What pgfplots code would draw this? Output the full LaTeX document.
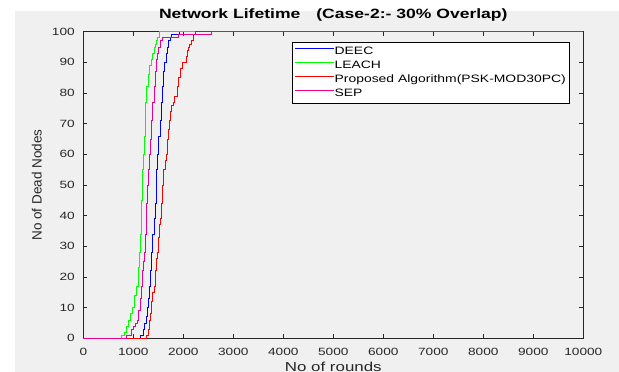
\documentclass[border=0pt]{standalone}
\usepackage{fontspec}
\setmainfont{Liberation Sans}[FakeStretch=1.3]
\newfontfamily\ylabfont{Liberation Sans}
\usepackage{pgfplots}
\pgfplotsset{compat=1.18}
\definecolor{mgray}{RGB}{240,240,240}
\definecolor{axgray}{RGB}{38,38,38}
\begin{document}
\begin{tikzpicture}[x=1pt,y=1pt]
\fill[white] (0,0) rectangle (619,372);
\fill[mgray] (15,0) rectangle (619,361);
\useasboundingbox (0,0) rectangle (619,372);
\begin{axis}[
  at={(83.3pt,33.7pt)}, anchor=south west,
  scale only axis, width=500pt, height=306.6pt,
  xmin=0, xmax=10000, ymin=0, ymax=100,
  xtick={0,1000,...,10000}, ytick={0,10,...,100},
  scaled x ticks=false,
  /pgf/number format/1000 sep=,
  /pgf/number format/assume math mode=true,
  tick align=inside, tick pos=both,
  xticklabel pos=lower, yticklabel pos=left,
  major tick length=4pt,
  axis line style={axgray, line width=0.5pt},
  tick style={axgray, line width=0.5pt},
  ticklabel style={font=\fontsize{10.5}{12}\selectfont, text=axgray},
  xticklabel style={yshift=-6pt},
  yticklabel style={xshift=-5pt},
  clip=false,
  title={Network Lifetime\hspace{16pt}(Case-2:- 30\% Overlap)},
  title style={at={(axis description cs:0.5,1)}, anchor=base, yshift=7.4pt, font=\bfseries\fontsize{13.5}{15}\selectfont},
  xlabel={No of rounds},
  xlabel style={at={(axis description cs:0.5,0)}, anchor=base, yshift=-33.5pt, font=\fontsize{13}{15}\selectfont, text=axgray},
  ylabel={No of Dead Nodes},
  ylabel style={at={(axis description cs:-0.0932,0.5)}, anchor=center, font=\ylabfont\fontsize{13.5}{15}\selectfont, text=axgray},
  legend cell align=left,
  legend image code/.code={\draw[#1, line width=0.8pt] (0pt,3.6pt) -- (35pt,3.6pt); \path (0pt,3.6pt) -- (39pt,3.6pt);},
  legend style={at={(axis description cs:0.9714,0.967)}, anchor=north east,
    font=\fontsize{10.7}{12}\selectfont,
    inner xsep=3pt, inner ysep=4.5pt, row sep=4pt,
    nodes={inner sep=0pt, text height=7.5pt, text depth=2.5pt}},
]
\addplot[const plot, color=blue, line width=0.8pt] coordinates {
(0,0) (1147,1) (1200,3) (1230,5) (1253,7) (1280,10) (1300,13) (1320,17) (1345,22)
(1367,28) (1390,34) (1413,39) (1433,44) (1453,50) (1470,55) (1487,60) (1510,66)
(1533,71) (1555,77) (1580,82) (1610,87) (1630,90) (1653,93) (1680,95) (1700,97)
(1740,98) (1767,99) (1913,100) (10000,100)};
\addlegendentry{DEEC}
\addplot[const plot, color=green, line width=0.8pt] coordinates {
(0,0) (760,1) (820,2) (870,4) (900,6) (950,8) (987,10) (1030,14) (1067,17) (1100,23)
(1120,28) (1140,34) (1153,39) (1165,45) (1173,50) (1185,55) (1200,60) (1215,66)
(1233,71) (1250,77) (1267,82) (1300,86) (1330,89) (1353,91) (1380,93) (1413,95)
(1440,96) (1467,97) (1490,98) (1520,100) (10000,100)};
\addlegendentry{LEACH}
\addplot[const plot, color=red, line width=0.8pt] coordinates {
(0,0) (1267,1) (1300,3) (1320,6) (1333,8) (1360,12) (1390,15) (1413,17) (1440,22)
(1460,26) (1480,28) (1500,33) (1520,37) (1533,39) (1560,44) (1587,50) (1610,55)
(1633,58) (1653,60) (1680,65) (1700,68) (1720,71) (1740,74) (1760,76) (1800,77)
(1830,79) (1880,82) (1910,85) (1947,88) (1990,90) (2053,92) (2080,94) (2100,95)
(2130,96) (2167,97) (2200,99) (2233,100) (10000,100)};
\addlegendentry{Proposed Algorithm(PSK-MOD30PC)\hspace{3pt}}
\addplot[const plot, color=magenta, line width=0.8pt] coordinates {
(0,0) (860,1) (967,3) (1000,4) (1040,5) (1080,6) (1110,9) (1140,13) (1167,17)
(1190,22) (1205,25) (1220,28) (1240,34) (1253,39) (1270,44) (1287,50) (1300,55)
(1320,60) (1340,65) (1367,71) (1390,77) (1413,82) (1440,87) (1470,91) (1487,93)
(1510,95) (1533,97) (1587,98) (1907,99) (2567,100) (10000,100)};
\addlegendentry{SEP}
\end{axis}
\end{tikzpicture}
\end{document}
